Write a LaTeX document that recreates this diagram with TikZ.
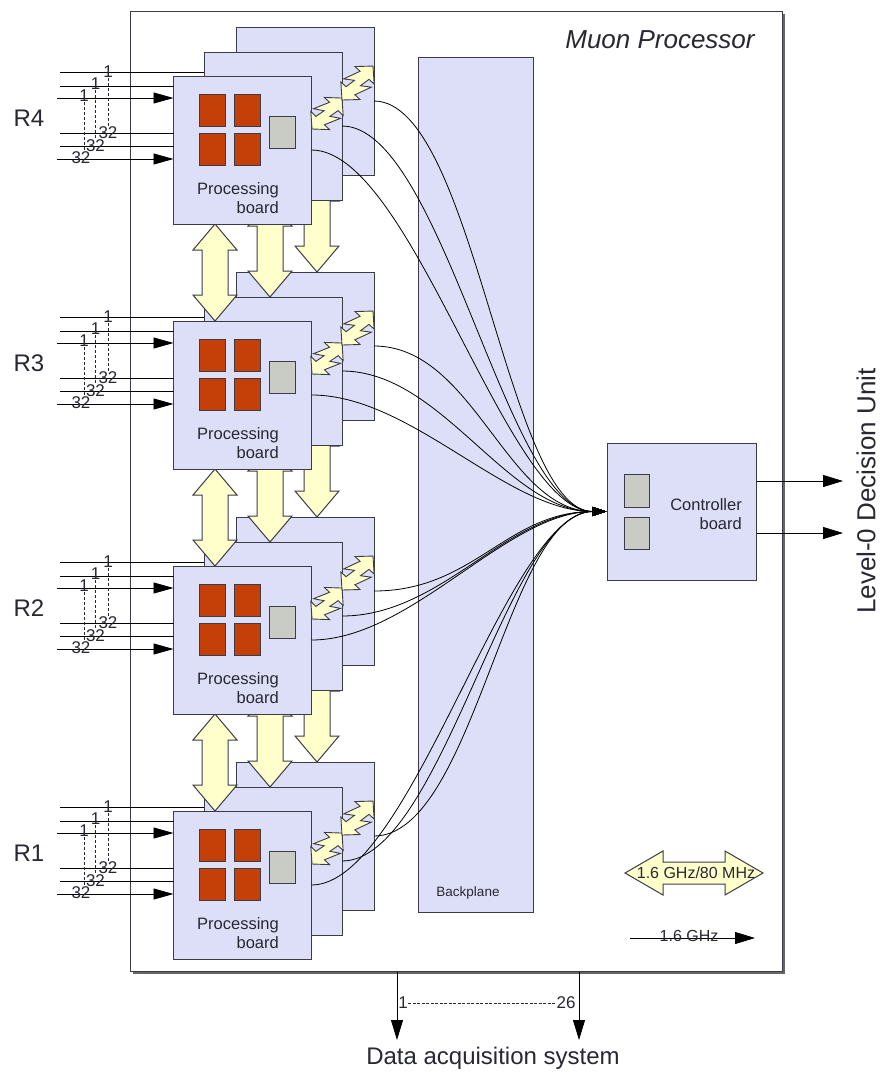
\documentclass[tikz,border=0pt]{standalone}
\usepackage{fontspec}
\setmainfont{Liberation Sans}
\usetikzlibrary{arrows.meta,calc}
\definecolor{boardfill}{RGB}{221,222,248}
\definecolor{chipred}{RGB}{196,64,8}
\definecolor{chipgray}{RGB}{200,204,196}
\definecolor{yel}{RGB}{255,255,204}
\definecolor{edge}{RGB}{60,60,72}
\definecolor{txt}{RGB}{40,40,50}

\newcommand\boltshape[4]{%
  \begin{scope}[shift={(#1,{#2})}, rotate=#3, xscale=#4]
    \draw[boltst] (0,0) -- (12,13) -- (12,6) -- (28,13) -- (22,4) -- (32,6) -- (32,13) -- (44,0)
      -- (32,-13) -- (32,-6) -- (16,-13) -- (22,-4) -- (12,-6) -- (12,-13) -- cycle;
  \end{scope}}

\newcommand\vblock[3]{%
  \draw[blockst] ({#1},{#2}) -- ({#1+22},{#2+26}) -- ({#1+13},{#2+26}) -- ({#1+13},{#3-26})
    -- ({#1+22},{#3-26}) -- ({#1},{#3}) -- ({#1-22},{#3-26}) -- ({#1-13},{#3-26})
    -- ({#1-13},{#2+26}) -- ({#1-22},{#2+26}) -- cycle;}

\newcommand\links[2]{%
  \vblock{215}{#1+148}{#2}
  \vblock{270}{#1+124}{#2-24}
  \vblock{317}{#1+99}{#2-49}}

\newcommand\pgroup[3]{%
  \node[board] (back#1) at (305,{#2+25}) {};
  \node[board] (mid#1) at (273,{#2+50}) {};
  \node[board] (front#1) at (242.5,{#2+74}) {};
  \node[redchip] (ca#1) at (212.5,{#2+34}) {};
  \node[redchip] (cb#1) at (247.5,{#2+34}) {};
  \node[redchip] (cc#1) at (212.5,{#2+73}) {};
  \node[redchip] (cd#1) at (247.5,{#2+73}) {};
  \node[graychip] (cg#1) at (282,{#2+56}) {};
  \node[pbtext] (pt#1) at (279,{#2+122}) {Processing\\board};
  \boltshape{312}{#2+53}{45.9}{0.98}
  \boltshape{342}{#2+24}{47.6}{1.045}
  \node[rlab] (r#1) at (29,{#2+42}) {#3};
  \coordinate (ia#1) at (60,{#2-4});
  \coordinate (ib#1) at (60,{#2+10});
  \coordinate (ic#1) at (57,{#2+22});
  \coordinate (id#1) at (60,{#2+57});
  \coordinate (ie#1) at (60,{#2+70});
  \coordinate (if#1) at (57,{#2+83});
  \draw[inline] (ia#1) -- (ia#1 -| mid#1.west);
  \draw[inline] (ib#1) -- (ib#1 -| front#1.west);
  \draw[inarrow] (ic#1) -- (ic#1 -| front#1.west);
  \draw[inline] (id#1) -- (id#1 -| front#1.west);
  \draw[inline] (ie#1) -- (ie#1 -| front#1.west);
  \draw[inarrow] (if#1) -- (if#1 -| front#1.west);
  \node[numlab] (oa#1) at (108,{#2-4}) {1};
  \node[numlab] (ob#1) at (95.5,{#2+8}) {1};
  \node[numlab] (oc#1) at (84,{#2+20}) {1};
  \node[numlab] (ta#1) at (108,{#2+57}) {32};
  \node[numlab] (tb#1) at (95.5,{#2+69.5}) {32};
  \node[numlab] (tc#1) at (81,{#2+81.5}) {32};
  \draw[dashv] (oa#1.south) -- (oa#1.south |- ta#1.north);
  \draw[dashv] (ob#1.south) -- (ob#1.south |- tb#1.north);
  \draw[dashv] (oc#1.south) -- (oc#1.south |- tc#1.north);
}

\begin{document}
\begin{tikzpicture}[x=1pt,y=-1pt,
  board/.style={draw=edge, fill=boardfill, line width=1pt, minimum width=138pt, minimum height=148pt, inner sep=0pt, outer sep=0pt},
  redchip/.style={draw=edge, fill=chipred, line width=0.8pt, minimum width=26pt, minimum height=32pt, inner sep=0pt, outer sep=0pt},
  graychip/.style={draw=edge, fill=chipgray, line width=0.8pt, minimum width=26pt, minimum height=32pt, inner sep=0pt, outer sep=0pt},
  pbtext/.style={anchor=east, align=right, inner sep=0pt, text=txt, font=\fontsize{16.5}{18.5}\selectfont},
  rlab/.style={inner sep=0pt, text=txt, font=\fontsize{24}{28}\selectfont},
  numlab/.style={inner sep=0.3pt, text=txt, font=\fontsize{17}{18}\selectfont},
  inline/.style={draw=black, line width=0.9pt},
  inarrow/.style={draw=black, line width=0.9pt, -{Triangle[length=20pt,width=11pt]}},
  dashv/.style={draw=txt, line width=0.7pt, dash pattern=on 3pt off 2pt},
  boltst/.style={draw=edge, fill=yel, line width=0.9pt, line join=miter},
  blockst/.style={draw=edge, fill=yel, line width=1pt},
  conn/.style={draw=black, line width=0.8pt, -{Triangle[length=14pt,width=9pt]}},
  outarrow/.style={draw=black, line width=0.9pt, -{Triangle[length=20pt,width=12pt]}}
]
\useasboundingbox (0,0) rectangle (888,1077);
\fill[white] (0,0) rectangle (888,1077);

% Muon processor box
\fill[black!60] (133,14) rectangle (785,974);
\node[draw=edge, fill=white, line width=1pt, minimum width=652pt, minimum height=960pt, inner sep=0pt] (mp) at (456,491) {};
\node[text=txt, font=\fontsize{26}{30}\selectfont\itshape] (title) at (660,40) {Muon Processor};

% Backplane
\node[draw=edge, fill=boardfill, line width=1pt, minimum width=115pt, minimum height=855pt, inner sep=0pt] (bp) at (475.5,484.5) {};
\node[text=txt, font=\fontsize{13.5}{15}\selectfont] (bptext) at (468,893) {Backplane};

% Controller board
\node[draw=edge, fill=boardfill, line width=1pt, minimum width=149pt, minimum height=137pt, inner sep=0pt] (ctrl) at (681.5,511.5) {};
\node[graychip, minimum width=25pt, minimum height=33pt] (cg1c) at (636.5,490.5) {};
\node[graychip, minimum width=25pt, minimum height=32pt] (cg2c) at (636.5,533) {};
\node[pbtext] (ctext) at (742,514) {Controller\\board};

% processing groups, bottom to top
\pgroup{1}{811}{R1}
\links{566}{811}
\pgroup{2}{566}{R2}
\links{321}{566}
\pgroup{3}{321}{R3}
\links{76}{321}
\pgroup{4}{76}{R4}

% connections to the controller
\foreach \g in {1,2,3,4} {
  \foreach \b in {back,mid,front} {
    \draw[conn] (\b\g.east) .. controls +(100,0) and +(-100,0) .. (ctrl.west);
  }
}

% outputs to Level-0 Decision Unit
\coordinate (lo1) at (843,481);
\coordinate (lo2) at (843,533);
\draw[outarrow] (lo1 -| ctrl.east) -- (lo1);
\draw[outarrow] (lo2 -| ctrl.east) -- (lo2);
\node[rotate=90, text=txt, font=\fontsize{26}{30}\selectfont] (ldu) at (866,491) {Level-0 Decision Unit};

% Data acquisition
\coordinate (d1) at (397,1040);
\coordinate (d2) at (579,1040);
\draw[outarrow] (d1 |- mp.south) -- (d1);
\draw[outarrow] (d2 |- mp.south) -- (d2);
\node[numlab] (dn1) at (403,1003) {1};
\node[numlab] (dn26) at (566,1003) {26};
\draw[dashv, dash pattern=on 3pt off 1.5pt] (dn1.east) -- (dn26.west);
\node[text=txt, font=\fontsize{24}{28}\selectfont] (daq) at (493,1058) {Data acquisition system};

% Legend
\draw[blockst] (625,873) -- (663,851) -- (663,862) -- (725,862) -- (725,851) -- (763,873)
  -- (725,895) -- (725,884) -- (663,884) -- (663,895) -- cycle;
\node[text=txt, font=\fontsize{16}{18}\selectfont] (lg1) at (696,873) {1.6 GHz/80 MHz};
\coordinate (la) at (630,938);
\coordinate (lb) at (755,938);
\draw[outarrow] (la) -- (lb);
\node[text=txt, font=\fontsize{16}{18}\selectfont] (lg2) at (689,936) {1.6 GHz};
\end{tikzpicture}
\end{document}
